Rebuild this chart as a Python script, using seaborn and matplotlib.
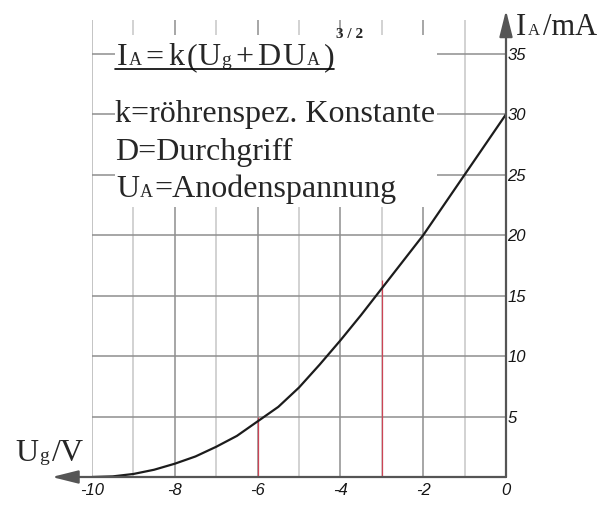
import matplotlib
matplotlib.use('Agg')
import matplotlib.pyplot as plt
from matplotlib.patches import Rectangle
from matplotlib.transforms import blended_transform_factory, IdentityTransform
import seaborn as sns

# Kennlinie Ia(Ug)
ug = [-10, -9.5, -9, -8.5, -8, -7.5, -7, -6.5, -6, -5.5, -5,
      -4.5, -4, -3.5, -3, -2.5, -2, -1.5, -1, -0.5, 0]
ia = [0, 0.05, 0.25, 0.6, 1.1, 1.7, 2.5, 3.4, 4.6, 5.8, 7.4,
      9.3, 11.3, 13.4, 15.6, 17.8, 20.0, 22.5, 25.0, 27.5, 30.0]

# Achsen / Raster
x_major = [-10, -8, -6, -4, -2, 0]
x_labels = ['-10', '-8', '-6', '-4', '-2', '0']
x_minor = [-9, -7, -5, -3, -1]
y_ticks = [5, 10, 15, 20, 25, 30, 35]
y_labels = ['5', '10', '15', '20', '25', '30', '35']

# rote Markierungen
mark_x = [-6, -3]
mark_top = [5.0, 16.3]

sns.set_style('white')
plt.rcParams['font.family'] = ['Liberation Serif', 'DejaVu Serif']

fig = plt.figure(figsize=(6.01, 5.13), dpi=100)
ax = fig.add_axes([92 / 601, 36 / 513, 414 / 601, 457 / 513])
ax.set_xlim(-10, 0)
ax.set_ylim(0, 37.8)
for s in ax.spines.values():
    s.set_visible(False)

top = 37.8
ax.vlines(x_minor, 0, top, color='#c6c6c6', lw=1.1, zorder=1)
ax.vlines(x_major[1:-1], 0, top, color='#8e8e8e', lw=1.1, zorder=1)
ax.vlines(x_major[0], 0, top, color='#b4b4b4', lw=1.1, zorder=1)
ax.hlines(y_ticks, -10, 0, color='#8e8e8e', lw=1.1, zorder=1)
ax.vlines(mark_x, 0, mark_top, color='#cc4455', lw=0.9, zorder=2)

# weisser Kasten hinter dem Text
ax.add_patch(Rectangle((-9.44, 22.3), 7.77, 14.3, fc='white', ec='none', zorder=3))

sns.lineplot(x=ug, y=ia, color='#1c1c1c', lw=1.6, ax=ax, zorder=4)

arrow = dict(arrowstyle='-|>,head_length=0.8,head_width=0.2', color='#555555',
             lw=1.6, mutation_scale=20, shrinkA=0, shrinkB=0)
ax.annotate('', xy=(-10.97, 0), xytext=(0, 0), arrowprops=arrow,
            annotation_clip=False, zorder=5)
ax.annotate('', xy=(0, 38.6), xytext=(0, 0), arrowprops=arrow,
            annotation_clip=False, zorder=5)

ax.set_xticks(x_major, x_labels)
ax.set_yticks(y_ticks, y_labels)
ax.yaxis.tick_right()
ax.tick_params(length=0, labelsize=12, labelcolor='#151515')
ax.tick_params(axis='x', pad=4)
ax.tick_params(axis='y', pad=1)
for lab in ax.get_xticklabels() + ax.get_yticklabels():
    lab.set_fontstyle('italic')
    lab.set_family('Liberation Sans')
ax.set_xlabel('')
ax.set_ylabel('')

renderer = fig.canvas.get_renderer()
tr = blended_transform_factory(IdentityTransform(), ax.transData)


def rich(x, y, parts, **kw):
    # Textstücke nacheinander setzen: (text, groesse, abstand in px)
    px = ax.transData.transform((x, y))[0]
    out = []
    for s, size, gap in parts:
        t = ax.text(px + gap, y, s, fontsize=size, va='baseline',
                    transform=tr, zorder=6, **kw)
        px = t.get_window_extent(renderer).x1
        out.append(t)
    return out


big, small = 23, 13
f = rich(-9.44, 34.05, [('I', big, 2), ('A', small, 1), ('=', big, 4),
                        ('k', big, 4), ('(', big, 3), ('U', big, 0),
                        ('g', 14, 1), ('+', big, 4), ('D', big, 4),
                        ('U', big, 2), ('A', small, 1), (')', big, 4)])
rich(-9.44, 29.36, [('k=röhrenspez. Konstante', big, 0)])
rich(-9.44, 26.22, [('D=Durchgriff', big, 0)])
rich(-9.44, 23.16, [('U', big, 1), ('A', small, 1), ('=Anodenspannung', big, 1)])
rich(0.25, 36.56, [('I', 22, 0), ('A', 12, 1), ('/mA', 22, 3)])
rich(-11.86, 1.3, [('U', big, 0), ('g', 14, 1), ('/', big, 3), ('V', big, -1)])

# Unterstreichung und Exponent
inv = ax.transData.inverted()
x0 = inv.transform((f[0].get_window_extent(renderer).x0 - 2, 0))[0]
x1 = inv.transform((f[-1].get_window_extent(renderer).x1, 0))[0]
ax.plot([x0, x1], [33.78, 33.78], color='black', lw=1.2, zorder=6)
rich(x1, 36.3, [('3 / 2', 11, 2)], fontweight='bold')

fig.savefig('out.png', dpi=100)
